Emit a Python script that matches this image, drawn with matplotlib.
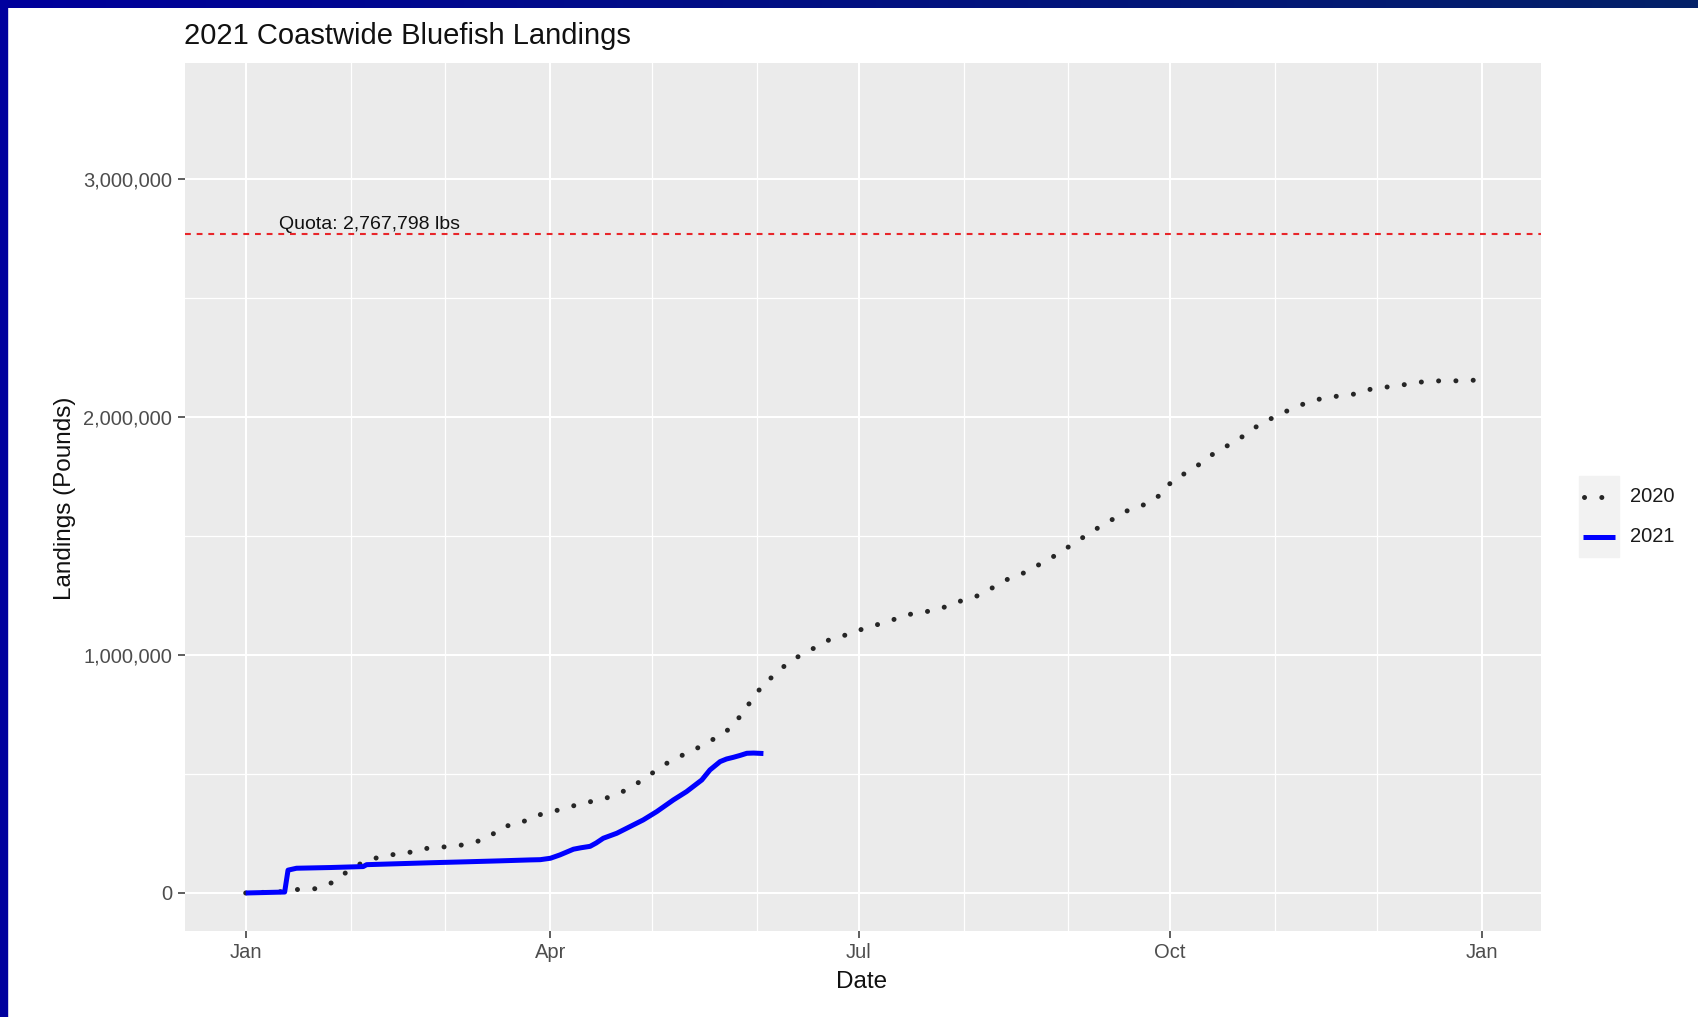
import matplotlib
matplotlib.use("Agg")
import matplotlib.pyplot as plt
import matplotlib.dates as mdates
import numpy as np
import pandas as pd
from matplotlib.ticker import FuncFormatter, FixedLocator
from matplotlib.lines import Line2D
from matplotlib.patches import Rectangle

plt.rcParams['font.family'] = ['Liberation Sans', 'DejaVu Sans']

# ---------------- data ----------------
title = "2021 Coastwide Bluefish Landings"
x_label = "Date"
y_label = "Landings (Pounds)"
quota = 2767798
quota_label = "Quota: 2,767,798 lbs"
series_names = ["2020", "2021"]
base_date = "2021-01-01"

# 2020 cumulative landings (days after Jan 1, pounds)
days_2020 = [0, 10, 15.5, 20.5, 25.4, 29, 33.1, 37.5, 41.9, 46.8, 51.8, 56.9, 62.1,
             67.2, 71.9, 75.6, 80.5, 84.5, 89.1, 94.3, 99.2, 104.3, 109.3, 113.5,
             117.9, 121.7, 126.3, 131.5, 136.3, 140.8, 144.8, 147.0, 150.1, 152.6,
             156.6, 160.4, 165.0, 169.4, 173.5, 178.7, 183.2, 188.1, 193.0, 197.9,
             202.6, 207.5, 211.9, 216.7, 221.1, 225.5, 230.2, 234.6, 239.2, 243.4,
             247.6, 251.8, 256.5, 261.2, 265.9, 270.4, 273.8, 278.3, 282.6, 286.8,
             291.3, 295.6, 299.8, 304.0, 308.5, 313.0, 317.8, 322.6, 327.8, 332.5,
             337.6, 342.7, 347.7, 352.8, 358.1, 363.6]
lbs_2020 = [0, 5000, 15000, 18000, 43000, 80000, 118000, 143000, 160000, 164000,
            185000, 192000, 197000, 211000, 234000, 279000, 289000, 318000, 339000,
            354000, 378000, 389000, 412000, 441000, 482000, 520000, 563000, 594000,
            632000, 667000, 713000, 772000, 815000, 877000, 919000, 972000, 1007000,
            1041000, 1073000, 1088000, 1116000, 1133000, 1157000, 1178000, 1185000,
            1206000, 1231000, 1251000, 1287000, 1322000, 1347000, 1382000, 1419000,
            1458000, 1497000, 1535000, 1574000, 1613000, 1634000, 1675000, 1735000,
            1770000, 1810000, 1857000, 1889000, 1929000, 1973000, 2001000, 2032000,
            2058000, 2078000, 2088000, 2097000, 2118000, 2127000, 2137000, 2148000,
            2152000, 2152000, 2155000]

# 2021 cumulative landings (days after Jan 1, pounds)
days_2021 = [0, 11.5, 12.5, 15, 25, 34.7, 35.7, 45, 54.4, 65, 75, 84, 87, 90, 92.8,
             96.8, 99, 101.7, 103.5, 105.6, 109.6, 113.5, 117.4, 121.4, 126.3, 130.2,
             134.7, 137.1, 140.1, 142, 144, 146, 148, 150, 152.9]
lbs_2021 = [0, 4000, 96000, 104000, 107000, 111000, 119000, 123000, 127000, 131000,
            135000, 139000, 140000, 146000, 160000, 184000, 190000, 196000, 210000,
            230000, 251000, 279000, 307000, 342000, 391000, 426000, 475000, 517000,
            552000, 563000, 570000, 578000, 587000, 588000, 586000]

x_tick_dates = ["2021-01-01", "2021-04-01", "2021-07-01", "2021-10-01", "2022-01-01"]
x_tick_labels = ["Jan", "Apr", "Jul", "Oct", "Jan"]
x_minor_dates = ["2021-02-01", "2021-03-01", "2021-05-01", "2021-06-01", "2021-08-01",
                 "2021-09-01", "2021-11-01", "2021-12-01"]
y_ticks = [0, 1000000, 2000000, 3000000]
y_minor = [500000, 1500000, 2500000]

# ---------------- figure ----------------
W, H, DPI = 1698, 1017, 100
fig = plt.figure(figsize=(W / DPI, H / DPI), dpi=DPI, facecolor="white")

def px(x, y):
    return x / W, 1 - y / H

# slide border
bar = fig.add_axes([0, 1 - 8 / H, 1, 8 / H])
grad = np.linspace(0, 1, 256)[None, :, None]
c0 = np.array([0, 0, 156]) / 255.0
c1 = np.array([4, 33, 104]) / 255.0
bar.imshow(c0 * (1 - grad) + c1 * grad, aspect="auto", extent=[0, 1, 0, 1])
bar.set_axis_off()
fig.patches.append(Rectangle((0, 0), 7 / W, 1, transform=fig.transFigure,
                             color="#00009E", zorder=5))

left, right, top, bottom = 185, 1541, 63, 931
ax = fig.add_axes([left / W, (H - bottom) / H, (right - left) / W, (bottom - top) / H])
ax.set_facecolor("#EBEBEB")
for s in ax.spines.values():
    s.set_visible(False)

b = pd.Timestamp(base_date)
d2020 = mdates.date2num(b + pd.to_timedelta(days_2020, unit="D"))
d2021 = mdates.date2num(b + pd.to_timedelta(days_2021, unit="D"))

dot_style = dict(color="#262626", lw=3.6, linestyle=(0, (0.01, 3.45)),
                 dash_capstyle="round")
blue_style = dict(color="#0000FF", lw=3.6, solid_capstyle="butt", solid_joinstyle="round")

ax.plot(d2020, lbs_2020, zorder=3, **dot_style)
ax.plot(d2021, lbs_2021, zorder=4, **blue_style)
ax.axhline(quota, color="#E8262A", lw=1.5, linestyle=(0, (2.8, 2.8)), zorder=3)
ax.text(mdates.date2num(b + pd.Timedelta(days=36.7)), 2790000, quota_label,
        ha="center", va="baseline", fontsize=14, color="#111111")

x0 = mdates.date2num(b)
ax.set_xlim(x0 - 17.93, x0 + 382.55)
ax.set_ylim(-159700, 3487400)

ax.xaxis.set_major_locator(FixedLocator(mdates.date2num(pd.to_datetime(x_tick_dates))))
ax.set_xticklabels(x_tick_labels)
ax.xaxis.set_minor_locator(FixedLocator(mdates.date2num(pd.to_datetime(x_minor_dates))))
ax.yaxis.set_major_locator(FixedLocator(y_ticks))
ax.yaxis.set_minor_locator(FixedLocator(y_minor))
ax.yaxis.set_major_formatter(FuncFormatter(lambda v, p: f"{int(v):,}"))

ax.grid(which="major", color="white", lw=1.5)
ax.grid(which="minor", color="white", lw=0.9)
ax.set_axisbelow(True)
ax.tick_params(which="major", length=5, width=1.1, color="#333333",
               labelsize=14.5, labelcolor="#4D4D4D")
ax.tick_params(axis="y", which="major", pad=4.3)
ax.tick_params(axis="x", which="major", pad=3.6)
ax.tick_params(which="minor", length=0)

fig.text(*px(184, 36), title, ha="left", va="center", fontsize=21, color="#111111")
fig.text(*px(862, 982), x_label, ha="center", va="center", fontsize=17.5, color="#111111")
fig.text(*px(65, 498), y_label, ha="center", va="center", rotation=90,
         fontsize=17.5, color="#111111")

# legend
fig.patches.append(Rectangle(px(1579, 557), 40 / W, 81 / H, transform=fig.transFigure,
                             color="#F2F2F2", zorder=1))
fig.lines.append(Line2D([px(1584, 0)[0], px(1602, 0)[0]], [px(0, 497)[1]] * 2,
                        transform=fig.transFigure, zorder=2, **dot_style))
fig.lines.append(Line2D([px(1583, 0)[0], px(1615, 0)[0]], [px(0, 537)[1]] * 2,
                        transform=fig.transFigure, zorder=2, **blue_style))
fig.text(*px(1630, 497), series_names[0], ha="left", va="center", fontsize=14.5,
         color="#1A1A1A")
fig.text(*px(1630, 537), series_names[1], ha="left", va="center", fontsize=14.5,
         color="#1A1A1A")

fig.savefig("out.png", dpi=DPI, facecolor="white")
